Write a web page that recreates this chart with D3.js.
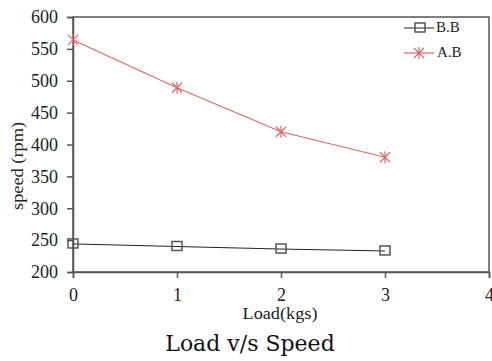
<!DOCTYPE html>
<html>
<head>
<meta charset="utf-8">
<script src="https://cdn.jsdelivr.net/npm/d3@7"></script>
<style>
  body { margin: 0; background: #fff; }
  text { font-family: "Liberation Serif", serif; }
</style>
</head>
<body>
<div id="chart"></div>
<script>
const loads = [0, 1, 2, 3];
const bbSpeed = [244, 240, 236, 233];
const abSpeed = [564, 489, 420, 380];
const xTicks = [0, 1, 2, 3, 4];
const yTicks = [200, 250, 300, 350, 400, 450, 500, 550, 600];

const W = 492, H = 361;
const margin = {top: 17, right: 3, bottom: 89, left: 73};

const svg = d3.select("#chart").append("svg")
  .attr("width", W).attr("height", H);

const x = d3.scaleLinear().domain([0, 4]).range([margin.left, W - margin.right]);
const y = d3.scaleLinear().domain([200, 600]).range([H - margin.bottom, margin.top]);

const axisCol = "#555";
const red = "#d36b6b";

// frame
svg.append("rect")
  .attr("x", x(0)).attr("y", y(600))
  .attr("width", x(4) - x(0)).attr("height", y(200) - y(600))
  .attr("fill", "none").attr("stroke", axisCol).attr("stroke-width", 1.5);

const xAxis = svg.append("g")
  .attr("transform", `translate(0,${y(200)})`)
  .call(d3.axisBottom(x).tickValues(xTicks).tickSize(6).tickPadding(10).tickFormat(d3.format("d")));
const yAxis = svg.append("g")
  .attr("transform", `translate(${x(0)},0)`)
  .call(d3.axisLeft(y).tickValues(yTicks).tickSize(6).tickPadding(9));

[xAxis, yAxis].forEach(a => {
  a.select(".domain").attr("stroke", axisCol).attr("stroke-width", 1.5);
  a.selectAll(".tick line").attr("stroke", axisCol).attr("stroke-width", 1.5);
  a.selectAll(".tick text").attr("fill", "#222")
    .style("font-family", "Liberation Serif, serif").style("font-size", "18px");
});

const line = d3.line().x((d, i) => x(loads[i])).y(d => y(d));

svg.append("path").datum(bbSpeed)
  .attr("d", line).attr("fill", "none").attr("stroke", "#222").attr("stroke-width", 1);
svg.append("path").datum(abSpeed)
  .attr("d", line).attr("fill", "none").attr("stroke", red).attr("stroke-width", 1.2);

function square(g, cx, cy) {
  g.append("rect").attr("x", cx - 5).attr("y", cy - 5).attr("width", 10).attr("height", 9)
    .attr("fill", "none").attr("stroke", "#555").attr("stroke-width", 1.5);
}
function star(g, cx, cy) {
  const r = 5;
  g.append("path")
    .attr("d", `M${cx - r},${cy - r}L${cx + r},${cy + r}M${cx - r},${cy + r}L${cx + r},${cy - r}M${cx},${cy - r - 1}L${cx},${cy + r + 1}`)
    .attr("stroke", red).attr("stroke-width", 1.2).attr("fill", "none");
}

bbSpeed.forEach((v, i) => square(svg, x(loads[i]), y(v)));
abSpeed.forEach((v, i) => star(svg, x(loads[i]), y(v)));

// legend
const lg = svg.append("g");
lg.append("line").attr("x1", 404).attr("x2", 434).attr("y1", 28).attr("y2", 28)
  .attr("stroke", "#222").attr("stroke-width", 1);
square(lg, 420, 28);
lg.append("text").attr("x", 436).attr("y", 32).attr("font-size", 15).attr("fill", "#222").text("B.B");
lg.append("line").attr("x1", 404).attr("x2", 434).attr("y1", 53).attr("y2", 53)
  .attr("stroke", red).attr("stroke-width", 1.2);
star(lg, 419, 53);
lg.append("text").attr("x", 437).attr("y", 57).attr("font-size", 15).attr("fill", "#222").text("A.B");

// axis labels
svg.append("text")
  .attr("transform", `translate(23,166) rotate(-90)`)
  .attr("text-anchor", "middle").attr("font-size", 16).attr("fill", "#222")
  .attr("textLength", 88).attr("lengthAdjust", "spacingAndGlyphs")
  .text("speed (rpm)");
svg.append("text")
  .attr("x", 280).attr("y", 319)
  .attr("text-anchor", "middle").attr("font-size", 16).attr("fill", "#222")
  .attr("textLength", 75).attr("lengthAdjust", "spacingAndGlyphs")
  .text("Load(kgs)");
svg.append("text")
  .attr("x", 250).attr("y", 351)
  .attr("text-anchor", "middle").attr("font-size", 22).attr("fill", "#111")
  .style("font-family", "DejaVu Serif, serif")
  .text("Load v/s Speed");
</script>
</body>
</html>
